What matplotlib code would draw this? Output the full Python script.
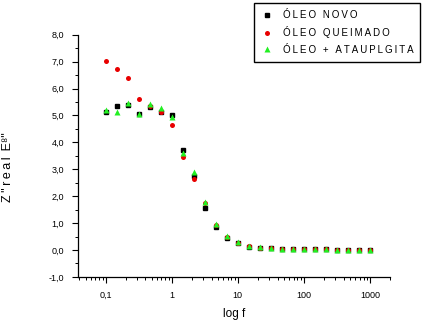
# Impedância real x log f - três amostras de óleo
import numpy as np
import matplotlib
matplotlib.use('Agg')
import matplotlib.pyplot as plt
from matplotlib.ticker import MultipleLocator, FixedLocator, LogLocator, NullFormatter

plt.rcParams['font.family'] = ['Liberation Sans', 'DejaVu Sans']

# Dados (frequências com 6 pontos por década, de 0,1 a 1000)
freq = [0.1, 0.147, 0.215, 0.316, 0.464, 0.681, 1.0, 1.47, 2.15, 3.16, 4.64, 6.81,
        10.0, 14.7, 21.5, 31.6, 46.4, 68.1, 100.0, 147.0, 215.0, 316.0, 464.0, 681.0, 1000.0]
oleo_novo = [5.13, 5.35, 5.40, 5.07, 5.30, 5.13, 5.00, 3.73, 2.75, 1.55, 0.87, 0.45,
             0.25, 0.12, 0.08, 0.06, 0.04, 0.03, 0.02, 0.02, 0.02, 0.01, 0.01, 0.01, 0.01]
oleo_queimado = [7.01, 6.72, 6.38, 5.61, 5.35, 5.13, 4.63, 3.46, 2.65, 1.75, 0.92, 0.48,
                 0.26, 0.13, 0.08, 0.06, 0.04, 0.03, 0.02, 0.02, 0.02, 0.01, 0.01, 0.01, 0.01]
oleo_atapulgita = [5.20, 5.12, 5.45, 5.07, 5.41, 5.26, 4.96, 3.62, 2.90, 1.78, 0.97, 0.51,
                   0.28, 0.14, 0.10, 0.07, 0.05, 0.04, 0.02, 0.02, 0.02, 0.01, 0.01, 0.01, 0.01]

yticks = [-1, 0, 1, 2, 3, 4, 5, 6, 7, 8]
ylabels = ['-1,0', '0,0', '1,0', '2,0', '3,0', '4,0', '5,0', '6,0', '7,0', '8,0']
xticks = [0.1, 1, 10, 100, 1000]
xlabels = ['0,1', '1', '10', '100', '1000']


# Espaçamento entre letras (como no original)
def espaca(txt):
    return '\u2009'.join(txt)


fig = plt.figure(figsize=(4.4, 3.25), dpi=100)
ax = fig.add_axes([0.177, 0.148, 0.709, 0.745])

ax.plot(freq, oleo_novo, 's', color='black', ms=3.3, label=espaca('ÓLEO NOVO'))
ax.plot(freq, oleo_queimado, 'o', color='#e80000', ms=3.6, mec='none', label=espaca('ÓLEO QUEIMADO'))
ax.plot(freq, oleo_atapulgita, '^', color='#22f022', ms=4.6, mec='none', label=espaca('ÓLEO + ATAUPLGITA'))

ax.set_xscale('log')
ax.set_xlim(0.038, 2000)
ax.set_ylim(-1, 8)

ax.yaxis.set_major_locator(FixedLocator(yticks))
ax.set_yticklabels(ylabels)
ax.yaxis.set_minor_locator(MultipleLocator(0.5))
ax.xaxis.set_major_locator(FixedLocator(xticks))
ax.set_xticklabels(xlabels)
ax.xaxis.set_minor_locator(LogLocator(base=10, subs=np.arange(2, 10)))
ax.xaxis.set_minor_formatter(NullFormatter())

ax.spines['top'].set_visible(False)
ax.spines['right'].set_visible(False)
ax.spines['left'].set_linewidth(0.9)
ax.spines['bottom'].set_linewidth(0.9)
ax.tick_params(axis='both', which='major', direction='out', length=4, width=0.8, labelsize=6.5, pad=6)
ax.tick_params(axis='both', which='minor', direction='out', length=2, width=0.7)

ax.set_xlabel('log f', fontsize=8.5, labelpad=6)
ax.set_ylabel('Z\u2009"\u2009r\u2009e\u2009a\u2009l\u2009 E⁸"', fontsize=9)
ax.yaxis.set_label_coords(-0.205, 0.455)

leg = ax.legend(loc='upper left', bbox_to_anchor=(0.548, 1.15), frameon=True, fancybox=False,
                fontsize=7, handletextpad=1.0, labelspacing=0.65, borderpad=0.7,
                handlelength=1.3, edgecolor='black', framealpha=1)
leg.get_frame().set_linewidth(1.0)

fig.savefig('out.png', dpi=100)
